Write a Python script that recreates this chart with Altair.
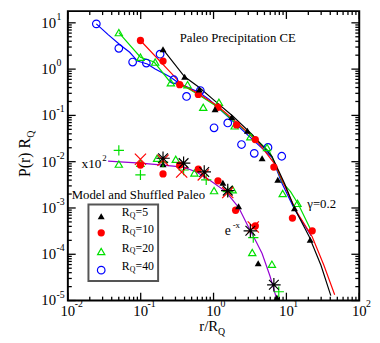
import altair as alt
import pandas as pd

# ---------------- data ----------------
# Paleo Precipitation CE, markers
p5_x = [0.2025, 0.401, 0.638, 1.048, 1.775, 2.915, 4.64, 7.62, 12.9, 21.2]
p5_y = [2.68, 0.682, 0.362, 0.136, 0.0922, 0.0466, 0.01187, 0.00406, 0.000984, 0.000206]
p10_x = [0.0992, 0.2025, 0.343, 0.618, 1.15, 2.07, 3.74, 6.73, 12.1, 22.6]
p10_y = [4.15, 1.49, 0.462, 0.2835, 0.150, 0.0624, 0.030, 0.00765, 0.000604, 0.000321]
p20_x = [0.0501, 0.0992, 0.158, 0.2594, 0.4396, 0.722, 1.186, 1.948, 3.2, 5.42, 8.9, 14.2]
p20_y = [6.14, 1.81, 1.42, 0.509, 0.462, 0.150, 0.192, 0.0594, 0.0347, 0.0203, 0.00205, 0.00126]
p40_x = [0.0246, 0.0501, 0.0775, 0.1195, 0.1845, 0.2847, 0.426, 0.658, 1.016, 1.567, 2.42, 3.62, 5.59, 8.63]
p40_y = [9.5, 2.81, 1.42, 1.35, 2.10, 0.589, 0.257, 0.344, 0.054, 0.0688, 0.0235, 0.01515, 0.0203, 0.0131]

# Paleo curves
l5_x = [0.2025, 0.401, 0.638, 0.985, 1.83, 3.40, 6.33, 9.47, 12.9, 20.6, 29.8, 40.7]
l5_y = [2.68, 0.682, 0.399, 0.222, 0.0968, 0.0383, 0.0131, 0.00334, 0.000984, 0.000239, 5.8e-5, 1.28e-5]
l10_x = [0.0992, 0.2847, 0.365, 0.618, 1.15, 2.205, 4.10, 6.95, 9.47, 13.7, 22.6, 32.7, 46.0]
l10_y = [4.15, 0.717, 0.462, 0.298, 0.158, 0.0655, 0.0259, 0.00886, 0.00303, 0.000851, 0.000239, 5.8e-5, 1.34e-5]
l20_x = [0.0501, 0.0992, 0.1532, 0.2517, 0.426, 0.679, 1.15, 2.01, 3.40, 5.95, 8.9, 11.4, 14.6, 21.9]
l20_y = [6.14, 1.81, 1.42, 0.535, 0.399, 0.257, 0.150, 0.0688, 0.0365, 0.0159, 0.0035, 0.00226, 0.0012, 0.000321]
l40_x = [0.0246, 0.0357, 0.0534, 0.0706, 0.0904, 0.1233, 0.158, 0.2517, 0.343, 0.638, 0.870, 1.83, 3.01, 6.33, 8.63, 12.9, 21.9]
l40_y = [9.5, 5.57, 3.25, 2.31, 1.49, 1.29, 1.008, 0.682, 0.485, 0.3126, 0.222, 0.0759, 0.0365, 0.01247, 0.0035, 0.000938, 0.000251]

# Model and Shuffled Paleo (x10^2)
m5_x = [0.2025, 1.343, 2.205, 4.10, 7.39]
m5_y = [0.00886, 0.0035, 0.001086, 6.4e-5, 1.16e-5]
m10_x = [0.0992, 0.2025, 0.343, 0.618, 1.15, 2.01, 3.74]
m10_y = [0.00844, 0.00543, 0.00844, 0.00694, 0.00386, 0.000893, 0.000409]
m20_x = [0.0501, 0.0992, 0.168, 0.303, 0.546, 1.016, 1.83, 3.40, 6.33]
m20_y = [0.00886, 0.0093, 0.01187, 0.0113, 0.00571, 0.00237, 0.00249, 0.000109, 6.1e-5]
sp_x = [0.0501, 0.0992, 0.2025, 0.388, 0.793, 1.567, 3.51, 7.86]
sp_y = [0.01754, 0.00518, 0.00977, 0.00661, 0.00406, 0.00226, 0.000228, 1.55e-5]
sx_x = [0.0992, 0.2025, 0.365, 0.722, 1.567, 3.51]
sx_y = [0.0113, 0.01076, 0.0060, 0.00518, 0.00215, 0.000389]
sa_x = [0.2025, 0.388, 0.745, 1.567, 3.2, 6.73]
sa_y = [0.01187, 0.0093, 0.0060, 0.00237, 0.000321, 2.19e-5]
ex_x = [0.0357, 0.0992, 0.2025, 0.388, 0.581, 0.870, 1.474, 2.205, 3.01, 3.85, 4.64, 5.95, 7.39]
ex_y = [0.01025, 0.0093, 0.00844, 0.00765, 0.0060, 0.00406, 0.00226, 0.001034, 0.000389, 0.000187, 0.000104, 3.39e-5, 1.05e-5]

# axes
x_major = [0.01, 0.1, 1, 10, 100]
x_exp = ["-2", "-1", "0", "1", "2"]
y_major = [1e-5, 1e-4, 1e-3, 1e-2, 1e-1, 1, 10]
y_exp = ["-5", "-4", "-3", "-2", "-1", "0", "1"]
x_minor = [m * 10.0 ** e for e in range(-2, 2) for m in range(2, 10)]
y_minor = [m * 10.0 ** e for e in range(-5, 1) for m in range(2, 10)]

legend_labels = ["=5", "=10", "=20", "=40"]

# ---------------- styling ----------------
W, H = 297, 295
xs = alt.Scale(type="log", domain=[0.01, 100], nice=False)
ys = alt.Scale(type="log", domain=[1e-5, 17.9], nice=False)
FONT = "Liberation Serif"
BLACK, RED, GREEN, BLUE, VIOLET = "#000000", "#ff0000", "#00e000", "#0000ff", "#9400d3"
PLUS = "M-1,0L1,0M0,-1L0,1"
XMARK = "M-1,-1L1,1M-1,1L1,-1"
STAR = "M-1,0L1,0M0,-1L0,1M-0.72,-0.72L0.72,0.72M-0.72,0.72L0.72,-0.72"

X = lambda f="x": alt.X(f"{f}:Q", scale=xs, axis=None)
Y = lambda f="y": alt.Y(f"{f}:Q", scale=ys, axis=None)


def df(xv, yv):
    return pd.DataFrame({"x": xv, "y": yv})


def line(xv, yv, color):
    return alt.Chart(df(xv, yv)).mark_line(color=color, strokeWidth=1.2).encode(x=X(), y=Y())


def pts(xv, yv, shape, color, size, filled, sw=1.2):
    return alt.Chart(df(xv, yv)).mark_point(
        shape=shape, color=color, size=size, filled=filled, strokeWidth=sw, opacity=1
    ).encode(x=X(), y=Y())


def txt(s, x, y, size=13, align="left", angle=0):
    return alt.Chart(alt.Data(values=[{"t": s}])).mark_text(
        font=FONT, fontSize=size, align=align, baseline="middle", angle=angle, color="black"
    ).encode(x=alt.value(x), y=alt.value(y), text="t:N")


layers = []

# ticks (inward on all four sides)
for vals, L in ((y_major, 8), (y_minor, 4)):
    d = pd.DataFrame({"y": vals})
    layers.append(alt.Chart(d).mark_rule(color="black", strokeWidth=1.3).encode(
        y=Y(), x=alt.value(0), x2=alt.value(L)))
    layers.append(alt.Chart(d).mark_rule(color="black", strokeWidth=1.3).encode(
        y=Y(), x=alt.value(W), x2=alt.value(W - L)))
for vals, L in ((x_major, 8), (x_minor, 4)):
    d = pd.DataFrame({"x": vals})
    layers.append(alt.Chart(d).mark_rule(color="black", strokeWidth=1.3).encode(
        x=X(), y=alt.value(H), y2=alt.value(H - L)))
    layers.append(alt.Chart(d).mark_rule(color="black", strokeWidth=1.3).encode(
        x=X(), y=alt.value(0), y2=alt.value(L)))

# tick labels
xl = pd.DataFrame({"x": x_major, "e": x_exp})
layers.append(alt.Chart(xl).mark_text(text="10", font=FONT, fontSize=15, align="center",
                                      baseline="middle").encode(x=X(), y=alt.value(H + 11)))
layers.append(alt.Chart(xl).mark_text(font=FONT, fontSize=10, align="left", baseline="middle",
                                      dx=7).encode(x=X(), y=alt.value(H + 4), text="e:N"))
yl = pd.DataFrame({"y": y_major, "e": y_exp})
layers.append(alt.Chart(yl).mark_text(text="10", font=FONT, fontSize=15, align="right",
                                      baseline="middle").encode(y=Y(), x=alt.value(-12)))
layers.append(alt.Chart(yl).mark_text(font=FONT, fontSize=10, align="left", baseline="middle",
                                      dy=-6).encode(y=Y(), x=alt.value(-11.5), text="e:N"))

# axis titles
layers.append(txt("r/R", 134, 321, 15))
layers.append(txt("Q", 153, 327, 10))
layers.append(txt("P(r) R", -44, 169, 16, angle=270))
layers.append(txt("Q", -37, 129, 10, angle=270))

# paleo curves + markers
layers += [line(l40_x, l40_y, BLUE), line(l20_x, l20_y, GREEN),
           line(l10_x, l10_y, RED), line(l5_x, l5_y, BLACK)]
layers += [pts(p40_x, p40_y, "circle", BLUE, 60, False),
           pts(p20_x, p20_y, "triangle-up", GREEN, 55, False),
           pts(p10_x, p10_y, "circle", RED, 55, True),
           pts(p5_x, p5_y, "triangle-up", BLACK, 50, True)]

# model / shuffled
layers.append(line(ex_x, ex_y, VIOLET))
layers += [pts(m20_x, m20_y, "triangle-up", GREEN, 55, False),
           pts(m10_x, m10_y, "circle", RED, 55, True),
           pts(m5_x, m5_y, "triangle-up", BLACK, 50, True),
           pts(sp_x, sp_y, PLUS, GREEN, 110, False, 1.2),
           pts(sx_x, sx_y, XMARK, RED, 130, False, 1.2),
           pts(sa_x, sa_y, STAR, BLACK, 190, False, 1.2)]

# annotations
layers.append(txt("Paleo Precipitation CE", 114, 27, 13))
layers.append(txt("x10", 14, 156, 13.5))
layers.append(txt("2", 35, 150, 9))
layers.append(txt("Model and Shuffled Paleo", 4, 187, 13))
layers.append(txt("\u03b3=0.2", 244, 197, 13))
layers.append(txt("e", 160, 224, 14))
layers.append(txt("-x", 168, 218, 9))

# legend
layers.append(alt.Chart(alt.Data(values=[{}])).mark_rect(fill="white", stroke="#555555", strokeWidth=2).encode(
    x=alt.value(21), x2=alt.value(92), y=alt.value(197), y2=alt.value(275)))
leg_styles = [("triangle-up", BLACK, 50, True), ("circle", RED, 55, True),
              ("triangle-up", GREEN, 55, False), ("circle", BLUE, 60, False)]
sym_y = [209, 226, 245, 264]
for (shape, col, size, filled), sy, lab in zip(leg_styles, sym_y, legend_labels):
    layers.append(alt.Chart(alt.Data(values=[{"s": lab}])).mark_point(
        shape=shape, color=col, size=size, filled=filled, strokeWidth=1.2, opacity=1).encode(
        x=alt.value(34), y=alt.value(sy)))
    layers.append(txt("R", 55, sy - 4, 12))
    layers.append(txt("Q", 63, sy, 8))
    layers.append(txt(lab, 69, sy - 4, 12))

chart = alt.layer(*layers).properties(
    width=W, height=H,
    padding={"left": 61, "top": 0, "right": 13, "bottom": 36},
    autosize=alt.AutoSizeParams(type="none"),
).configure_view(stroke="black", strokeWidth=2)

chart.save("out.html", embed_options={"renderer": "svg", "actions": False})
